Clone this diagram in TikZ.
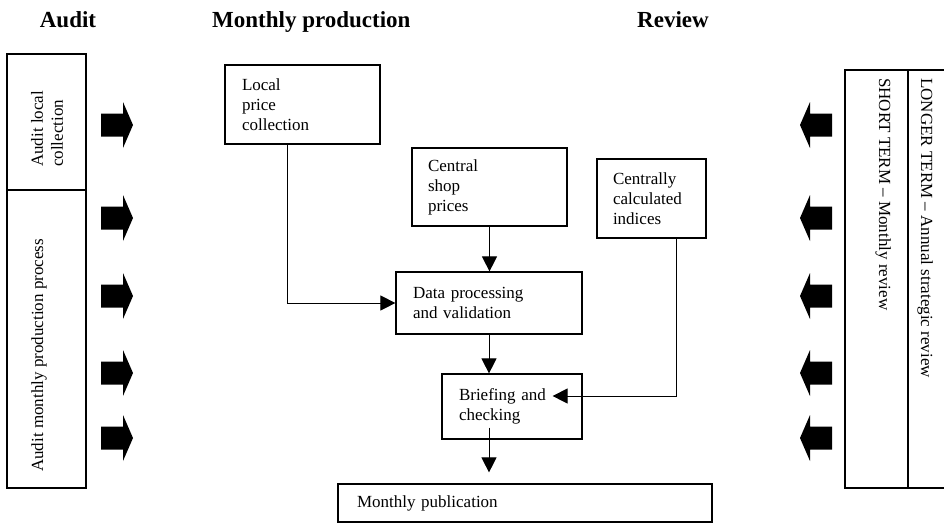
\documentclass[tikz,border=0pt]{standalone}
\usepackage{fontspec}
\setmainfont{Liberation Serif}
\usetikzlibrary{arrows.meta,positioning}

\tikzset{
  stage/.style={draw, line width=1.2pt, align=left, inner xsep=17pt, inner ysep=0pt,
    font=\fontsize{17}{20}\selectfont},
  sidetext/.style={inner sep=0pt, align=left, font=\fontsize{17}{20}\selectfont},
  heading/.style={inner sep=0pt, font=\bfseries\fontsize{23}{27}\selectfont},
  flow/.style={line width=1pt, -{Triangle[length=15pt,width=15pt]}},
  frame/.style={line width=1.2pt}
}

\begin{document}
\begin{tikzpicture}[x=1pt,y=-1pt]
            \useasboundingbox (0,0) rectangle (944,523);

            \node[heading, anchor=base] (audithead) at (68,27) {Audit};
            \node[heading, anchor=base west] (prodhead) at (212,27) {Monthly production};
            \node[heading, anchor=base] (reviewhead) at (673,27) {Review};

            % audit side
            \draw[frame] (7,54) rectangle (86,488);
            \draw[frame] (7,190) -- (86,190);
            \node[sidetext, rotate=90, anchor=west] (auditlocal) at (47,167) {Audit local\\collection};
            \node[sidetext, rotate=90, anchor=base west] (auditmonthly) at (43,472) {Audit monthly production process};

            % review side
            \draw[frame] (845,70) rectangle (960,488);
            \draw[frame] (908,70) -- (908,488);
            \node[sidetext, rotate=-90, anchor=base west] (shortterm) at (879,78) {SHORT TERM -- Monthly review};
            \node[sidetext, rotate=-90, anchor=base west] (longterm) at (921,78) {LONGER TERM -- Annual strategic review};

            \foreach \y in {125,218,296,373,438} {
              \fill (101,\y-11.5) -- (123,\y-11.5) -- (123,\y-23) -- (133,\y)
                -- (123,\y+23) -- (123,\y+11.5) -- (101,\y+11.5) -- cycle;
              \fill (832,\y-11.5) -- (810,\y-11.5) -- (810,\y-23) -- (800,\y)
                -- (810,\y+23) -- (810,\y+11.5) -- (832,\y+11.5) -- cycle;
            }

            % monthly production
            \node[stage, minimum width=155pt, minimum height=79pt, text width=121pt] (local) at (302.5,104.5) {Local\\price\\collection};
            \node[stage, minimum width=155pt, minimum height=78pt, text width=123pt, inner xsep=16pt] (central) at (489.5,187) {Central\\shop\\prices};
            \node[stage, minimum width=109pt, minimum height=79pt, text width=77pt, inner xsep=16pt] (calc) at (651.5,198.5) {Centrally\\calculated\\indices};
            \node[stage, minimum width=186pt, minimum height=62pt, text width=152pt] (data) at (489,303) {Data processing\\and validation};
            \node[stage, minimum width=140pt, minimum height=65pt, text width=106pt] (brief) at (512,406.5) {Briefing and\\checking};
            \node[stage, minimum width=374pt, minimum height=38pt, text width=336pt, inner xsep=19pt] (pub) at (525,503) {Monthly publication};

            \draw[flow] ([xshift=-15.5pt]local.south) |- (data.west);
            \draw[flow] (central.south) -- (central.south |- data.north);
            \draw[flow] (data.south) -- (data.south |- brief.north);
            \draw[flow] ([xshift=24.5pt]calc.south) |- ([xshift=-30pt,yshift=10.5pt]brief.east);
            \draw[flow] ([yshift=12pt]data.south |- brief.south) -- ([yshift=11pt]data.south |- pub.north);
\end{tikzpicture}
\end{document}
